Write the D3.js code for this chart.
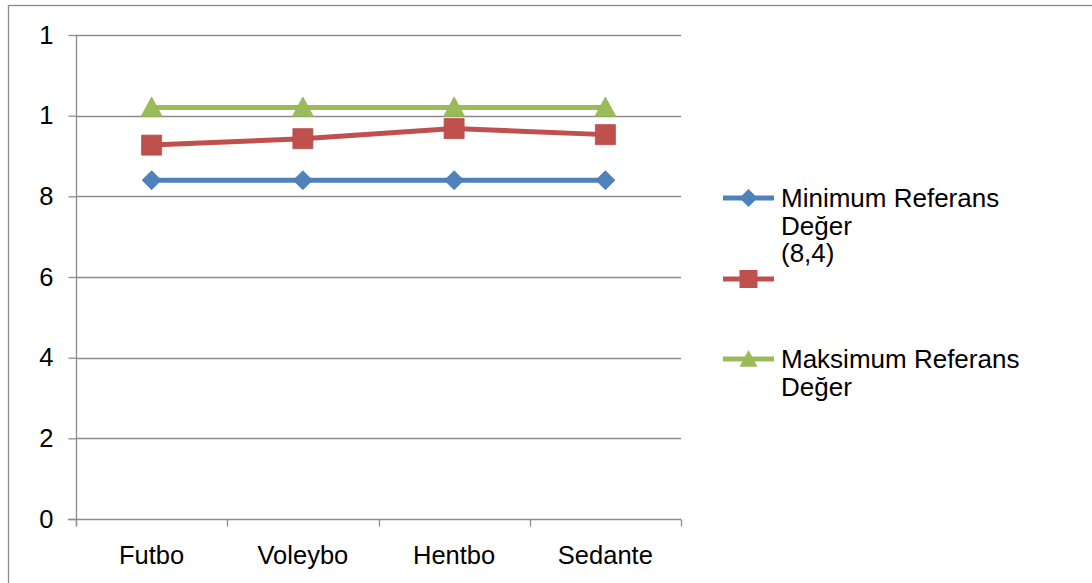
<!DOCTYPE html>
<html>
<head>
<meta charset="utf-8">
<script src="https://cdn.jsdelivr.net/npm/d3@7"></script>
<style>
  html, body { margin: 0; padding: 0; background: #fff; }
  svg { display: block; font-family: "Liberation Sans", Arial, sans-serif; }
</style>
</head>
<body>
<svg id="chart" width="1092" height="583"></svg>
<script>
// Sports groups on the x axis
const categories = ["Futbo", "Voleybo", "Hentbo", "Sedante"];

// Series values
const minRef = [8.4, 8.4, 8.4, 8.4];
const measured = [9.27, 9.43, 9.68, 9.53];
const maxRef = [10.2, 10.2, 10.2, 10.2];

// Y-axis ticks and their printed labels
const yTicks = [0, 2, 4, 6, 8, 10, 12];
const yTickLabels = ["0", "2", "4", "6", "8", "1", "1"];

// Legend text, one array of lines per series
const legendMin = ["Minimum Referans", "Değer", "(8,4)"];
const legendMeasured = [];
const legendMax = ["Maksimum Referans", "Değer"];

const series = [
  { values: minRef, color: "#4F81BD", marker: "diamond", label: legendMin },
  { values: measured, color: "#C0504D", marker: "square", label: legendMeasured },
  { values: maxRef, color: "#9BBB59", marker: "triangle", label: legendMax }
];

const svg = d3.select("#chart");
const W = 1092, H = 583;
const fontSize = 25.5;

// Chart-area frame (its right and bottom edges run past the page)
svg.append("rect")
  .attr("x", 8.5).attr("y", 5.5)
  .attr("width", W + 10).attr("height", H + 10)
  .attr("fill", "none").attr("stroke", "#8c8c8c").attr("stroke-width", 1.3);

const plot = { left: 76, right: 681, top: 35, bottom: 519 };

const x = d3.scaleBand().domain(categories).range([plot.left, plot.right]);
const y = d3.scaleLinear().domain([0, 12]).range([plot.bottom, plot.top]);

const gridColor = "#8c8c8c";

// Horizontal gridlines
svg.append("g")
  .selectAll("line")
  .data(yTicks.filter(t => t > 0))
  .join("line")
  .attr("x1", plot.left).attr("x2", plot.right)
  .attr("y1", d => Math.round(y(d)) + 0.5).attr("y2", d => Math.round(y(d)) + 0.5)
  .attr("stroke", gridColor).attr("stroke-width", 1.3);

// Y axis
const yAxis = svg.append("g")
  .attr("transform", `translate(${plot.left + 0.5},0)`)
  .call(d3.axisLeft(y).tickValues(yTicks)
    .tickFormat((d, i) => yTickLabels[i])
    .tickSize(8).tickPadding(15));
yAxis.select(".domain").attr("stroke", gridColor).attr("stroke-width", 1.3)
  .attr("d", `M0,${plot.bottom + 7}V${plot.top}`);
yAxis.selectAll(".tick line").attr("stroke", gridColor).attr("stroke-width", 1.3);
yAxis.selectAll(".tick text").attr("font-size", fontSize).attr("fill", "#000")
  .attr("font-family", "Liberation Sans, Arial, sans-serif");

// X axis: ticks sit on the category boundaries
const xAxis = svg.append("g")
  .attr("transform", `translate(0,${plot.bottom + 0.5})`);
xAxis.append("line")
  .attr("x1", plot.left - 8).attr("x2", plot.right)
  .attr("stroke", gridColor).attr("stroke-width", 1.3);
const boundaries = categories.map(c => x(c)).concat([x(categories[categories.length - 1]) + x.bandwidth()]);
xAxis.selectAll("line.b")
  .data(boundaries)
  .join("line").attr("class", "b")
  .attr("x1", d => Math.round(d) + 0.5).attr("x2", d => Math.round(d) + 0.5)
  .attr("y1", 0).attr("y2", 7)
  .attr("stroke", gridColor).attr("stroke-width", 1.3);
xAxis.selectAll("text")
  .data(categories)
  .join("text")
  .attr("x", d => x(d) + x.bandwidth() / 2)
  .attr("y", 44)
  .attr("text-anchor", "middle")
  .attr("font-size", fontSize)
  .attr("fill", "#000")
  .text(d => d);

// Marker shapes
function markerPath(type, size) {
  const s = size / 2;
  if (type === "diamond") return `M0,${-s}L${s},0L0,${s}L${-s},0Z`;
  if (type === "square") return `M${-s},${-s}H${s}V${s}H${-s}Z`;
  return `M0,${-s}L${s},${s * 0.85}H${-s}Z`;
}
const markerSize = { diamond: 19, square: 20, triangle: 21 };
const cx = d => x(d) + x.bandwidth() / 2;

series.forEach(s => {
  const pts = categories.map((c, i) => [cx(c), y(s.values[i])]);
  svg.append("path")
    .attr("d", d3.line()(pts))
    .attr("fill", "none")
    .attr("stroke", s.color)
    .attr("stroke-width", 5)
    .attr("stroke-linejoin", "round");
  svg.append("g")
    .selectAll("path")
    .data(pts)
    .join("path")
    .attr("transform", d => `translate(${d[0]},${d[1]})`)
    .attr("d", markerPath(s.marker, markerSize[s.marker]))
    .attr("fill", s.color)
    .attr("stroke", d3.color(s.color).darker(0.15))
    .attr("stroke-width", 0.8);
});

// Legend
const legendYs = [198, 279, 359];
const lineH = 27.5;
series.forEach((s, i) => {
  const ly = legendYs[i];
  const g = svg.append("g");
  g.append("line")
    .attr("x1", 723).attr("x2", 774)
    .attr("y1", ly).attr("y2", ly)
    .attr("stroke", s.color).attr("stroke-width", 5);
  g.append("path")
    .attr("transform", `translate(748.5,${ly})`)
    .attr("d", markerPath(s.marker, 18))
    .attr("fill", s.color);
  s.label.forEach((t, k) => {
    g.append("text")
      .attr("x", 781)
      .attr("y", ly + 9 + k * lineH)
      .attr("font-size", 26)
      .attr("fill", "#000")
      .text(t);
  });
});
</script>
</body>
</html>
